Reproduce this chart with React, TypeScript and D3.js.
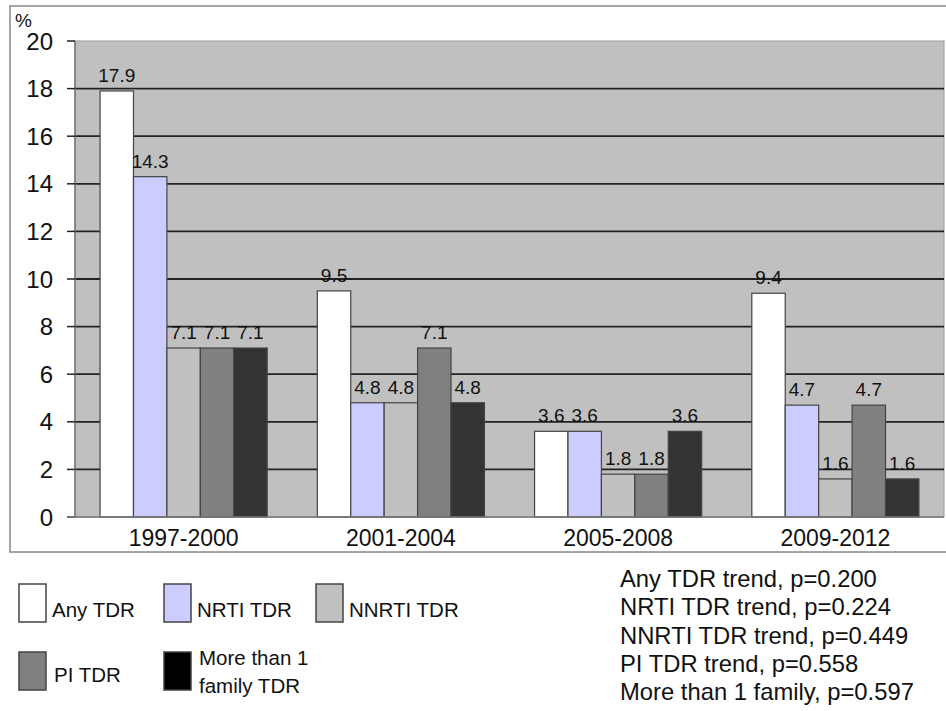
import React from "react";
import * as d3 from "d3";

const categories = ["1997-2000", "2001-2004", "2005-2008", "2009-2012"];
const seriesNames = ["Any TDR", "NRTI TDR", "NNRTI TDR", "PI TDR", "More than 1 family TDR"];
const anyTdr = [17.9, 9.5, 3.6, 9.4];
const nrtiTdr = [14.3, 4.8, 3.6, 4.7];
const nnrtiTdr = [7.1, 4.8, 1.8, 1.6];
const piTdr = [7.1, 7.1, 1.8, 4.7];
const multiTdr = [7.1, 4.8, 3.6, 1.6];
const yTicks = [0, 2, 4, 6, 8, 10, 12, 14, 16, 18, 20];
const trendNotes = [
  "Any TDR trend, p=0.200",
  "NRTI TDR trend, p=0.224",
  "NNRTI TDR trend, p=0.449",
  "PI TDR trend, p=0.558",
  "More than 1 family, p=0.597",
];

const W = 946;
const H = 711;
const FONT = "'Liberation Sans', Arial, sans-serif";
const colors = ["#ffffff", "#ccccff", "#c0c0c0", "#808080", "#333333"];
const legendColors = ["#ffffff", "#ccccff", "#c0c0c0", "#808080", "#000000"];

const seriesValues = [anyTdr, nrtiTdr, nnrtiTdr, piTdr, multiTdr];

export default function App() {
  const plot = { left: 75, right: 944, top: 41, bottom: 517 };

  const x0 = d3.scaleBand<string>().domain(categories).range([plot.left, plot.right]).padding(0);
  const x1 = d3
    .scaleBand<string>()
    .domain(seriesNames)
    .range([0, x0.bandwidth()])
    .paddingInner(0)
    .paddingOuter(0.75);
  const y = d3.scaleLinear().domain([0, 20]).range([plot.bottom, plot.top]);

  // legend layout: two rows
  const legendPos = [
    { x: 19, y: 584, tx: 52, ty: 617 },
    { x: 164, y: 584, tx: 197, ty: 617 },
    { x: 316, y: 584, tx: 349, ty: 617 },
    { x: 19, y: 652, tx: 54, ty: 682 },
    { x: 164, y: 652, tx: 199, ty: 665 },
  ];

  return (
    <svg
      width={W}
      height={H}
      style={{ position: "absolute", left: 0, top: 0, background: "#fff" }}
      fontFamily={FONT}
    >
      {/* outer frame */}
      <rect x={10} y={6} width={W} height={546} fill="#fff" stroke="#888" strokeWidth={1.5} />

      {/* plot background */}
      <rect
        x={plot.left}
        y={plot.top}
        width={plot.right - plot.left}
        height={plot.bottom - plot.top}
        fill="#c0c0c0"
        stroke="#9a9a9a"
        strokeWidth={1}
      />

      {/* gridlines */}
      {yTicks
        .filter((t) => t > 0 && t < 20)
        .map((t) => (
          <line key={t} x1={plot.left} x2={plot.right} y1={y(t)} y2={y(t)} stroke="#222" strokeWidth={1.8} />
        ))}

      {/* y axis */}
      <line x1={plot.left} x2={plot.left} y1={plot.top} y2={plot.bottom} stroke="#777" strokeWidth={1.5} />
      {yTicks.map((t) => (
        <g key={t}>
          <line x1={plot.left - 8} x2={plot.left} y1={y(t)} y2={y(t)} stroke="#222" strokeWidth={1.5} />
          <text x={53} y={y(t) + 8.5} textAnchor="end" fontSize={24} fill="#111">
            {t}
          </text>
        </g>
      ))}
      <text x={15} y={27} fontSize={19} fill="#111">
        %
      </text>

      {/* bars */}
      {categories.map((c, ci) => (
        <g key={c} transform={`translate(${x0(c)},0)`}>
          {seriesNames.map((s, si) => {
            const v = seriesValues[si][ci];
            const bx = x1(s) as number;
            return (
              <g key={s}>
                <rect
                  x={bx}
                  y={y(v)}
                  width={x1.bandwidth()}
                  height={plot.bottom - y(v)}
                  fill={colors[si]}
                  stroke="#444"
                  strokeWidth={1.2}
                />
                <text
                  x={bx + x1.bandwidth() / 2}
                  y={y(v) - 9}
                  textAnchor="middle"
                  fontSize={19}
                  fill="#111"
                >
                  {v.toFixed(1)}
                </text>
              </g>
            );
          })}
        </g>
      ))}

      {/* x axis */}
      <line x1={plot.left - 8} x2={plot.right} y1={plot.bottom} y2={plot.bottom} stroke="#777" strokeWidth={1.5} />
      {categories.map((c) => (
        <text
          key={c}
          x={(x0(c) as number) + x0.bandwidth() / 2}
          y={546}
          textAnchor="middle"
          fontSize={23}
          fill="#111"
        >
          {c}
        </text>
      ))}

      {/* legend */}
      {seriesNames.map((s, i) => {
        const p = legendPos[i];
        return (
          <g key={s}>
            <rect
              x={p.x}
              y={p.y}
              width={27}
              height={38}
              fill={legendColors[i]}
              stroke="#444"
              strokeWidth={1.5}
            />
            {i === 4 ? (
              <text x={p.tx} y={p.ty} fontSize={20.5} fill="#111">
                <tspan x={p.tx}>More than 1</tspan>
                <tspan x={p.tx} dy={28}>
                  family TDR
                </tspan>
              </text>
            ) : (
              <text x={p.tx} y={p.ty} fontSize={20.5} fill="#111">
                {s}
              </text>
            )}
          </g>
        );
      })}

      {/* trend notes */}
      {trendNotes.map((t, i) => (
        <text key={t} x={620} y={587 + i * 28.3} fontSize={23.8} fill="#111">
          {t}
        </text>
      ))}
    </svg>
  );
}
